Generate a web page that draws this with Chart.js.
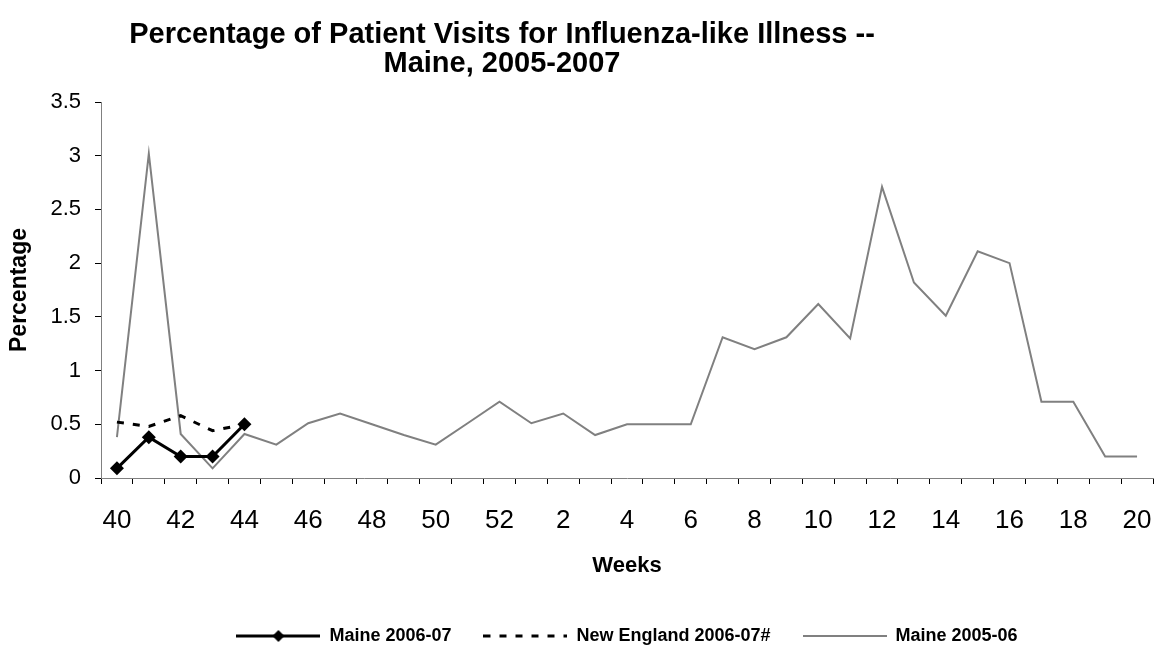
<!DOCTYPE html>
<html><head><meta charset="utf-8">
<script src="https://cdn.jsdelivr.net/npm/chart.js@4/dist/chart.umd.min.js"></script>
<style>html,body{margin:0;padding:0;background:#fff;}#wrap{width:1161px;height:649px;position:relative;overflow:hidden;}</style>
</head><body><div id="wrap"><canvas id="c" width="1161" height="649"></canvas></div>
<script>
const weeks = ['40','41','42','43','44','45','46','47','48','49','50','51','52','1','2','3','4','5','6','7','8','9','10','11','12','13','14','15','16','17','18','19','20'];
const maine0607 = [0.09,0.38,0.2,0.2,0.5];
const newEngland0607 = [0.52,0.48,0.58,0.44,0.5];
const maine0506 = [0.38,3.02,0.41,0.09,0.41,0.31,0.51,0.6,0.5,0.4,0.31,0.51,0.71,0.51,0.6,0.4,0.5,0.5,0.5,1.31,1.2,1.31,1.62,1.3,2.71,1.82,1.51,2.11,2.0,0.71,0.71,0.2,0.2];
const seriesNames = ['Maine 2006-07','New England 2006-07#','Maine 2005-06'];
const titleLines = ['Percentage of Patient Visits for Influenza-like Illness --','Maine, 2005-2007'];
const yTicks = [0,0.5,1,1.5,2,2.5,3,3.5];

const FONT = '"Liberation Sans", Arial, sans-serif';
Chart.defaults.font.family = FONT;
Chart.defaults.color = '#000';

function legendImg(kind){
  const c = document.createElement('canvas');
  c.width = 84; c.height = 16;
  const g = c.getContext('2d');
  g.lineCap = 'butt';
  if (kind === 0) {
    g.strokeStyle = '#000'; g.lineWidth = 3;
    g.beginPath(); g.moveTo(0,8); g.lineTo(84,8); g.stroke();
    g.fillStyle = '#000';
    g.beginPath(); g.moveTo(42,2); g.lineTo(48,8); g.lineTo(42,14); g.lineTo(36,8); g.closePath(); g.fill();
  } else if (kind === 1) {
    g.strokeStyle = '#000'; g.lineWidth = 3; g.setLineDash([7,9]);
    g.beginPath(); g.moveTo(0,8); g.lineTo(84,8); g.stroke();
  } else {
    g.strokeStyle = '#808080'; g.lineWidth = 2;
    g.beginPath(); g.moveTo(0,8); g.lineTo(84,8); g.stroke();
  }
  return c;
}
const legendImgs = [legendImg(0), legendImg(1), legendImg(2)];

const titlePlugin = {
  id: 'customTitle',
  afterDraw(chart) {
    const ctx = chart.ctx;
    ctx.save();
    ctx.font = 'bold 29px ' + FONT;
    ctx.fillStyle = '#000';
    ctx.textAlign = 'center';
    ctx.textBaseline = 'middle';
    ctx.fillText(titleLines[0], 502, 35);
    ctx.fillText(titleLines[1], 502, 64);
    ctx.restore();
  }
};

new Chart(document.getElementById('c'), {
  type: 'line',
  data: {
    labels: weeks,
    datasets: [
      { label: seriesNames[0], data: maine0607, borderColor: '#000', backgroundColor: '#000', borderWidth: 3,
        pointStyle: 'rectRot', pointRadius: 7, pointHoverRadius: 7, pointBackgroundColor: '#000', pointBorderColor: '#000', pointBorderWidth: 0, tension: 0, order: 0 },
      { label: seriesNames[1], data: newEngland0607, borderColor: '#000', borderWidth: 3, borderDash: [7,9],
        pointRadius: 0, tension: 0, order: 1 },
      { label: seriesNames[2], data: maine0506, borderColor: '#808080', borderWidth: 2,
        pointRadius: 0, tension: 0, order: 2 }
    ]
  },
  options: {
    responsive: false,
    animation: false,
    events: [],
    layout: { padding: { top: 102, left: 0, right: 8, bottom: -6 } },
    plugins: {
      title: { display: false },
      tooltip: { enabled: false },
      legend: {
        display: true,
        position: 'bottom',
        fullSize: false,
        labels: {
          usePointStyle: true,
          pointStyleWidth: 84,
          padding: 32,
          font: { size: 18, weight: 'bold', family: FONT },
          color: '#000',
          generateLabels: () => seriesNames.map((n, i) => ({
            text: n, pointStyle: legendImgs[i], fillStyle: 'transparent', strokeStyle: 'transparent',
            lineWidth: 0, hidden: false, datasetIndex: i
          }))
        }
      }
    },
    scales: {
      x: {
        type: 'category',
        offset: true,
        afterFit(scale) { scale.height = 117; scale.paddingLeft = 0; scale.paddingRight = 0; },
        grid: { display: true, offset: true, drawOnChartArea: false, drawTicks: true, tickLength: 6, color: '#000', tickColor: '#000', tickWidth: 1 },
        border: { display: true, color: '#808080', width: 1 },
        ticks: {
          autoSkip: false, maxRotation: 0, minRotation: 0, padding: 21,
          font: { size: 26, family: FONT }, color: '#000',
          callback(v, i) { return i % 2 === 0 ? weeks[i] : ''; }
        },
        title: { display: true, text: 'Weeks', font: { size: 22, weight: 'bold', family: FONT }, color: '#000', padding: { top: 16, bottom: 16 } }
      },
      y: {
        min: 0, max: 3.5,
        afterFit(scale) { scale.width = 101; },
        afterBuildTicks(scale) { scale.ticks = yTicks.map(v => ({ value: v })); },
        grid: { display: true, drawOnChartArea: false, drawTicks: true, tickLength: 6, color: '#000', tickColor: '#000' },
        border: { display: true, color: '#808080', width: 1 },
        ticks: { padding: 14, font: { size: 22, family: FONT }, color: '#000', callback(v) { return String(v); } },
        title: { display: true, text: 'Percentage', font: { size: 23, weight: 'bold', family: FONT }, color: '#000', padding: { top: 6, bottom: 6 } }
      }
    }
  },
  plugins: [titlePlugin]
});
</script>
</body></html>
